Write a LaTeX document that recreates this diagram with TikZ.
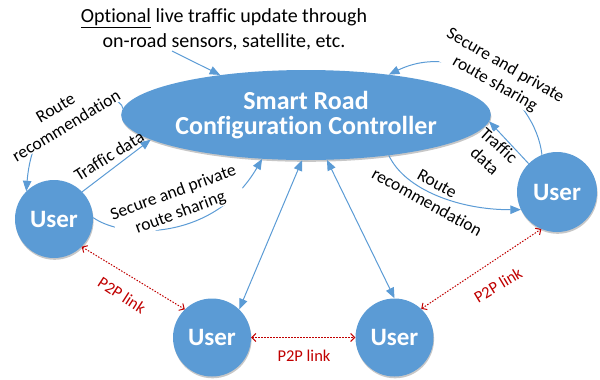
\documentclass[tikz,border=0pt]{standalone}
\usepackage{fontspec}
\setmainfont{Carlito}[Ligatures={NoCommon}]
\usetikzlibrary{arrows.meta,shapes.geometric,shadows}
\definecolor{ublue}{HTML}{5B9BD5}
\definecolor{ured}{HTML}{C00000}
\begin{document}
\begin{tikzpicture}[x=1bp,y=-1bp,
  softshadow/.style={drop shadow={shadow xshift=0.6bp,shadow yshift=-1.8bp,fill=black,opacity=0.22}},
  user/.style={circle,fill=ublue,minimum size=78bp,inner sep=0pt,text=white,
    font=\fontsize{25bp}{30bp}\selectfont\bfseries,softshadow},
  ctrlbox/.style={ellipse,fill=ublue,minimum width=320bp,minimum height=90bp,inner sep=0pt,
    text=white,align=center,font=\fontsize{26bp}{25bp}\selectfont\bfseries,softshadow},
  flow/.style={draw=ublue,line width=1bp,-{Triangle[length=10.5bp,width=8.5bp]}},
  bflow/.style={draw=ublue,line width=1bp,{Triangle[length=10.5bp,width=8.5bp]}-{Triangle[length=10.5bp,width=8.5bp]}},
  p2p/.style={draw=ured,line width=1bp,dash pattern=on 1.5bp off 1.5bp,
    {Straight Barb[length=4bp,width=8bp]}-{Straight Barb[length=4bp,width=8bp]}},
  lbl/.style={font=\fontsize{17.5bp}{21bp}\selectfont,align=center,inner sep=0.5bp},
  wlbl/.style={lbl,fill=white},
  plbl/.style={font=\fontsize{16.5bp}{20bp}\selectfont,text=ured,inner sep=1bp},
]
\useasboundingbox (0,0) rectangle (600,379);

% main nodes
\node[ctrlbox] (ctrl) at (306,115) {Smart Road\\Configuration Controller};
\node[user] (uL) at (54,219) {User};
\node[user,minimum size=80bp] (uR) at (557,192) {User};
\node[user] (uB1) at (212,337.5) {User};
\node[user] (uB2) at (394.5,337.5) {User};

\node[align=center,font=\fontsize{20bp}{25bp}\selectfont,inner sep=0pt] (note) at (224,29)
  {\underline{Optional} live traffic update through\\on-road sensors, satellite, etc.};
\coordinate (noteout) at (172,51);

% blue connectors
\draw[flow] (noteout) -- (ctrl.155);
\draw[flow] (ctrl.178) .. controls (122,90) and (35,85) .. (uL.135);
\draw[flow] (uL.44) -- (ctrl.189);
\draw[flow] (uL.2) .. controls (125,240) and (215,240) .. (ctrl.225.6);
\draw[bflow] (ctrl.265) -- (uB1.46);
\draw[bflow] (ctrl.295) -- (uB2.90);
\draw[flow] (ctrl.334.5) .. controls (405,190) and (460,210) .. (uR.206);
\draw[flow] (uR.135) -- (ctrl.358);
\draw[flow] (uR.112) .. controls (535,95) and (460,40) .. (ctrl.26);

% P2P links
\draw[p2p] (uL.315) -- (uB1.134);
\draw[p2p] (uB1.0) -- (uB2.180);
\draw[p2p] (uB2.47) -- (uR.247);

% labels
\node[wlbl,rotate=31] (lRRL) at (61,117) {Route\\recommendation};
\node[lbl,rotate=32] (lTDL) at (109,156) {Traffic data};
\node[wlbl,rotate=20] (lSSL) at (177,203) {Secure and private\\route sharing};
\node[lbl,rotate=-29] (lRRR) at (432,193) {Route\\recommendation};
\node[wlbl,rotate=-42] (lTDR) at (492,153) {Traffic\\data};
\node[wlbl,rotate=-30] (lSSR) at (500,75) {Secure and private\\route sharing};
\node[plbl,rotate=-33] (pL) at (122,295) {P2P link};
\node[plbl] (pM) at (304,356) {P2P link};
\node[plbl,rotate=31] (pR) at (498,285) {P2P link};
\end{tikzpicture}
\end{document}
